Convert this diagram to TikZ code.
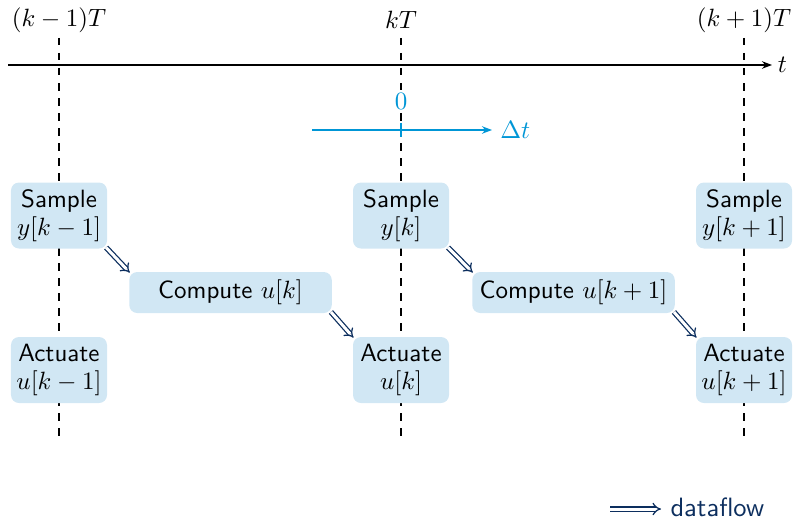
\documentclass[tikz,border=0pt]{standalone}
\usetikzlibrary{arrows.meta}
\definecolor{boxfill}{RGB}{209,231,244}
\definecolor{dtblue}{RGB}{0,150,214}
\definecolor{flowblue}{RGB}{12,46,94}
\begin{document}
\begin{tikzpicture}[x=0.4pt,y=-0.4pt,
  task/.style={rounded corners=3.2pt, fill=boxfill, align=center, font=\sffamily,
    minimum width=38.4pt, minimum height=26.4pt, inner sep=1pt},
  comp/.style={rounded corners=3.2pt, fill=boxfill, font=\sffamily,
    minimum width=81pt, minimum height=16.4pt, inner sep=1pt},
  tick/.style={dashed, line width=0.5pt},
  flow/.style={draw=flowblue, double, double distance=1.2pt, line width=0.5pt, -{Implies}, shorten <=-0.8pt, shorten >=-0.6pt}]
\useasboundingbox (0,0) rectangle (797,519);
% time labels
\node (lm) at (59,20) {$(k-1)T$};
\node (l0) at (401,20) {$kT$};
\node (lp) at (744,20) {$(k+1)T$};
% dashed lines
\coordinate (dm1) at (59,38); \coordinate (dm2) at (59,440);
\coordinate (d01) at (401,38); \coordinate (d02) at (401,440);
\coordinate (dp1) at (744,38); \coordinate (dp2) at (744,440);
\draw[tick] (dm1) -- (dm2);
\draw[tick] (d01) -- (d02);
\draw[tick] (dp1) -- (dp2);
% time axis
\coordinate (ta) at (8,65); \coordinate (tb) at (772,65);
\draw[line width=0.6pt, -{Stealth[length=4pt]}] (ta) -- (tb) node[right, inner sep=2pt] (tl) {$t$};
% delta t axis
\coordinate (da) at (312,130); \coordinate (db) at (492,130);
\draw[dtblue, line width=0.6pt, -{Stealth[length=4pt]}] (da) -- (db) node[right, inner sep=3pt] (dl) {$\Delta t$};
\node[text=dtblue, fill=white, inner sep=1pt] (zero) at (401,101) {$0$};
\coordinate (z1) at (401,123); \coordinate (z2) at (401,137);
\draw[dtblue, line width=0.6pt] (z1) -- (z2);
% boxes
\node[task] (s1) at (59,215.5) {Sample\\[-1pt]$y[k-1]$};
\node[task] (s2) at (401,215.5) {Sample\\[-1pt]$y[k]$};
\node[task] (s3) at (744,215.5) {Sample\\[-1pt]$y[k+1]$};
\node[comp] (c1) at (230.5,292.5) {Compute $u[k]$};
\node[comp] (c2) at (573.5,292.5) {Compute $u[k+1]$};
\node[task] (a1) at (59,370) {Actuate\\[-1pt]$u[k-1]$};
\node[task] (a2) at (401,370) {Actuate\\[-1pt]$u[k]$};
\node[task] (a3) at (744,370) {Actuate\\[-1pt]$u[k+1]$};
% dataflow
\draw[flow] (s1.south east) -- (c1.north west);
\draw[flow] (c1.south east) -- (a2.north west);
\draw[flow] (s2.south east) -- (c2.north west);
\draw[flow] (c2.south east) -- (a3.north west);
% legend
\coordinate (la) at (610,509);
\node[anchor=west, font=\sffamily\fontsize{10.6}{12}\selectfont, text=flowblue, inner sep=0pt] (lt) at (670,507) {dataflow};
\coordinate (lb) at (661,509);
\draw[flow, shorten <=0pt, shorten >=0pt] (la) -- (lb);
\end{tikzpicture}
\end{document}
